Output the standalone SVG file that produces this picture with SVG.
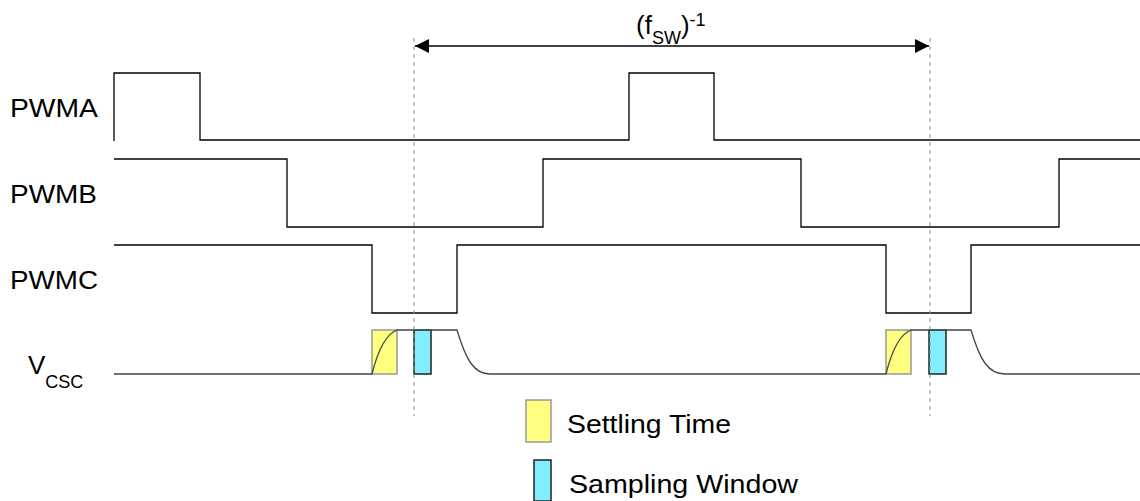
<svg xmlns="http://www.w3.org/2000/svg" width="1140" height="501" viewBox="0 0 1140 501">
<style>
.sig{fill:none;stroke:#000;stroke-width:1.3}
.vc{fill:none;stroke:#444;stroke-width:1.3}
.lbl{font-family:"Liberation Sans",Arial,sans-serif;font-size:26px;fill:#000}
.sub{font-family:"Liberation Sans",Arial,sans-serif;font-size:18px;fill:#000}
.set{fill:#ffff80;stroke:#999;stroke-width:1.5}
.smp{fill:#80eeff;stroke:#222;stroke-width:1.5}
.dash{stroke:#888;stroke-width:1;stroke-dasharray:4,4;fill:none}
</style>
<defs>
<marker id="ah" viewBox="0 0 10 10" refX="10" refY="5" markerWidth="20" markerHeight="14" markerUnits="userSpaceOnUse" orient="auto-start-reverse">
<path d="M0,0 L10,5 L0,10 z" fill="#000"/>
</marker>
</defs>
<g id="labels">
<text class="lbl" x="10" y="117" textLength="88" lengthAdjust="spacingAndGlyphs">PWMA</text>
<text class="lbl" x="10" y="203" textLength="87" lengthAdjust="spacingAndGlyphs">PWMB</text>
<text class="lbl" x="10" y="289" textLength="88" lengthAdjust="spacingAndGlyphs">PWMC</text>
<text class="lbl" x="28" y="374">V<tspan class="sub" dy="14">CSC</tspan></text>
<text class="lbl" x="636" y="34">(f<tspan class="sub" dy="10">SW</tspan><tspan dy="-10">)</tspan><tspan class="sub" dy="-8">-1</tspan></text>
</g>
<g id="PWMA"><path class="sig" d="M114,141 V73 H200 V140 H629 V73 H714 V140 H1140"/></g>
<g id="PWMB"><path class="sig" d="M114,159 H287 V227 H543 V159 H801 V227 H1059 V159 H1140"/></g>
<g id="PWMC"><path class="sig" d="M114,245 H372 V313 H457 V245 H886 V313 H971 V245 H1140"/></g>
<g id="VCSC">
<rect class="set" x="372" y="330" width="25" height="44"/>
<rect class="smp" x="414" y="330" width="17" height="44"/>
<rect class="set" x="886" y="330" width="25" height="44"/>
<rect class="smp" x="929" y="330" width="17" height="44"/>
<path class="vc" d="M114,374 H372 M372,374 C378,350 386,334 397,330 H414 M431,330 H457 C466,360 474,374 490,374 H886 M886,374 C892,350 900,334 911,330 H929 M946,330 H971 C980,360 988,374 1005,374 H1140"/>
</g>
<g id="connectors">
<line class="dash" x1="414" y1="38" x2="414" y2="416"/>
<line class="dash" x1="930" y1="38" x2="930" y2="416"/>
<line x1="415" y1="46" x2="929" y2="46" stroke="#000" stroke-width="1.3" marker-start="url(#ah)" marker-end="url(#ah)"/>
</g>
<g id="legend">
<rect class="set" x="526" y="400" width="25" height="42"/>
<text class="lbl" x="567" y="433" textLength="164" lengthAdjust="spacingAndGlyphs">Settling Time</text>
<rect class="smp" x="534" y="460" width="17" height="41"/>
<text class="lbl" x="569" y="493" textLength="229" lengthAdjust="spacingAndGlyphs">Sampling Window</text>
</g>
</svg>
